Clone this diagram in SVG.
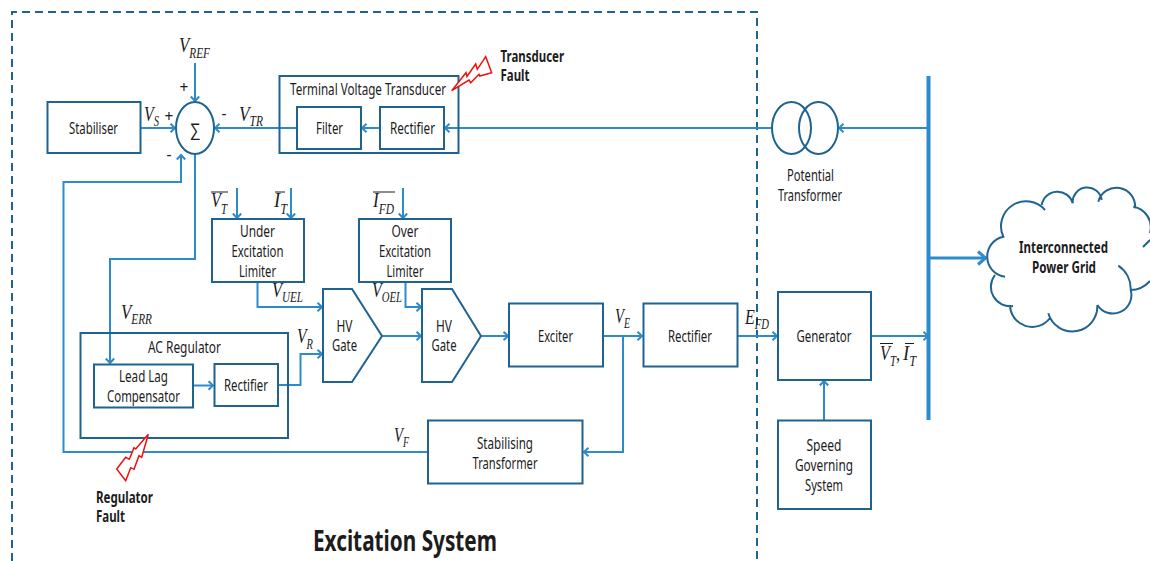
<svg xmlns="http://www.w3.org/2000/svg" width="1150" height="561" viewBox="0 0 1150 561">
<style>
.b{fill:#fff;stroke:#1f6391;stroke-width:2}
.o{fill:none;stroke:#1f6391;stroke-width:2}
.c{fill:none;stroke:#2e8bcb;stroke-width:2}
.a{marker-end:url(#ah)}
.bolt{fill:#fff;stroke:#f01010;stroke-width:1.5;stroke-linejoin:miter}
text{font-family:"Noto Sans","Liberation Sans",sans-serif;font-size:15.500px;fill:#1c1c1c;text-anchor:middle}
.l{text-anchor:start}
.f{font-weight:700}
.m{font-family:"Liberation Serif","DejaVu Serif",serif;font-style:italic;font-size:21px;text-anchor:start}
.m tspan{font-size:14px}
.m tspan.n{font-size:21px}
.bar{stroke:#1c1c1c;stroke-width:1}
</style>
<defs>
<marker id="ah" markerUnits="userSpaceOnUse" markerWidth="9" markerHeight="12" refX="7" refY="6" orient="auto"><path d="M2.500,1.800 L7,6 L2.500,10.200" fill="none" stroke="#2e8bcb" stroke-width="2"/></marker>
</defs>
<rect width="1150" height="561" fill="#fff"/>
<path id="boundary" d="M12,561 V12 H757 V561" fill="none" stroke="#1f6391" stroke-width="2" stroke-dasharray="8 5"/>

<g id="connectors">
<path class="c a" d="M195,63 V101"/>
<path class="c a" d="M140,128 H175"/>
<path class="c a" d="M297,128 H215"/>
<path class="c a" d="M380,128 H362"/>
<path class="c a" d="M772,128 H445"/>
<path class="c a" d="M928,128 H839"/>
<path class="c a" d="M428,452 H63.500 V182 H181 V155"/>
<path class="c a" d="M195,154 V259 H110 V363"/>
<path class="c a" d="M237,188 V218"/>
<path class="c a" d="M291,188 V218"/>
<path class="c a" d="M403,188 V218"/>
<path class="c a" d="M257.500,282 V307 H322"/>
<path class="c a" d="M405.500,282 V307 H421"/>
<path class="c a" d="M193,385.500 H213"/>
<path class="c a" d="M278,385 H300.500 V354 H322"/>
<path class="c a" d="M382,336 H421"/>
<path class="c a" d="M481,336 H508"/>
<path class="c a" d="M603,336 H642"/>
<path class="c a" d="M623,336 V452 H584"/>
<path class="c a" d="M737,336 H777"/>
<path class="c a" d="M871,336 H928"/>
<path class="c a" d="M824,420 V381"/>
<path d="M929,258 H985" fill="none" stroke="#2e8bcb" stroke-width="3"/>
<path d="M978,251.500 L985.500,258 L978,264.500" fill="none" stroke="#2e8bcb" stroke-width="3"/>
<path id="bus" d="M928.500,76 V420" fill="none" stroke="#2e8bcb" stroke-width="4"/>
</g>

<g id="stabiliser"><rect class="b" x="47.500" y="102" width="93" height="51"/><text x="93.500" y="134" textLength="49" lengthAdjust="spacingAndGlyphs">Stabiliser</text></g>
<g id="summer"><ellipse class="b" cx="195" cy="128" rx="19" ry="26"/><text x="195" y="136" style="font-size:18px" textLength="11" lengthAdjust="spacingAndGlyphs">∑</text></g>
<g id="signs"><text x="184" y="93">+</text><text x="169" y="122">+</text><text x="169" y="160">-</text><text x="224" y="119">-</text></g>

<g id="voltage-transducer"><rect class="o" x="279.500" y="76" width="179" height="77"/><text x="368" y="95" textLength="156" lengthAdjust="spacingAndGlyphs">Terminal Voltage Transducer</text></g>
<g id="filter"><rect class="b" x="297" y="107" width="64" height="42"/><text x="329.500" y="134" textLength="27" lengthAdjust="spacingAndGlyphs">Filter</text></g>
<g id="transducer-rectifier"><rect class="b" x="380" y="107" width="64" height="42"/><text x="412.500" y="134" textLength="45" lengthAdjust="spacingAndGlyphs">Rectifier</text></g>

<g id="under-excitation-limiter"><rect class="b" x="212" y="219" width="92" height="63"/><text x="257.500" y="237" textLength="35" lengthAdjust="spacingAndGlyphs">Under</text><text x="257.500" y="257" textLength="52" lengthAdjust="spacingAndGlyphs">Excitation</text><text x="257.500" y="277" textLength="37" lengthAdjust="spacingAndGlyphs">Limiter</text></g>
<g id="over-excitation-limiter"><rect class="b" x="359" y="219" width="92" height="63"/><text x="405" y="237" textLength="27" lengthAdjust="spacingAndGlyphs">Over</text><text x="405" y="257" textLength="52" lengthAdjust="spacingAndGlyphs">Excitation</text><text x="405" y="277" textLength="37" lengthAdjust="spacingAndGlyphs">Limiter</text></g>

<g id="hv-gate-1"><path class="b" d="M323,289 H352 L382,336 L352,382 H323 Z"/><text x="344.500" y="332" textLength="16" lengthAdjust="spacingAndGlyphs">HV</text><text x="344.500" y="351" textLength="25" lengthAdjust="spacingAndGlyphs">Gate</text></g>
<g id="hv-gate-2"><path class="b" d="M422,289 H452 L481,336 L452,382 H422 Z"/><text x="444" y="332" textLength="16" lengthAdjust="spacingAndGlyphs">HV</text><text x="444" y="351" textLength="25" lengthAdjust="spacingAndGlyphs">Gate</text></g>

<g id="ac-regulator"><rect class="o" x="80.500" y="333" width="207.500" height="105"/><text x="184.500" y="353" textLength="73" lengthAdjust="spacingAndGlyphs">AC Regulator</text></g>
<g id="lead-lag"><rect class="b" x="94" y="364.500" width="99" height="43"/><text x="143.500" y="382" textLength="49" lengthAdjust="spacingAndGlyphs">Lead Lag</text><text x="143.500" y="402" textLength="73" lengthAdjust="spacingAndGlyphs">Compensator</text></g>
<g id="regulator-rectifier"><rect class="b" x="214.500" y="364" width="63.500" height="42"/><text x="246" y="391" textLength="44" lengthAdjust="spacingAndGlyphs">Rectifier</text></g>

<g id="exciter"><rect class="b" x="509" y="303.500" width="94" height="63"/><text x="555.500" y="342" textLength="35" lengthAdjust="spacingAndGlyphs">Exciter</text></g>
<g id="main-rectifier"><rect class="b" x="643.500" y="303.500" width="94" height="63"/><text x="690" y="342" textLength="44" lengthAdjust="spacingAndGlyphs">Rectifier</text></g>
<g id="stabilising-transformer"><rect class="b" x="428" y="420.500" width="154.500" height="63"/><text x="505" y="449" textLength="56" lengthAdjust="spacingAndGlyphs">Stabilising</text><text x="505" y="469" textLength="65" lengthAdjust="spacingAndGlyphs">Transformer</text></g>
<g id="generator"><rect class="b" x="778" y="292" width="93" height="88"/><text x="824" y="342" textLength="55" lengthAdjust="spacingAndGlyphs">Generator</text></g>
<g id="speed-governing"><rect class="b" x="778" y="420.500" width="93" height="88.500"/><text x="824" y="451" textLength="35" lengthAdjust="spacingAndGlyphs">Speed</text><text x="824" y="471" textLength="58" lengthAdjust="spacingAndGlyphs">Governing</text><text x="824" y="491" textLength="38" lengthAdjust="spacingAndGlyphs">System</text></g>

<g id="potential-transformer"><ellipse class="o" cx="791.500" cy="128" rx="19.500" ry="26"/><ellipse class="o" cx="818.500" cy="128" rx="19.500" ry="26"/><text x="810.500" y="181" textLength="47" lengthAdjust="spacingAndGlyphs">Potential</text><text x="810" y="201" textLength="64" lengthAdjust="spacingAndGlyphs">Transformer</text></g>

<g id="power-grid">
<path class="o" d="M1005,276.700 A20.300,20.300 0 0 1 1003.300,236.700 A25,25 0 0 1 1045,210 M1041.700,205 A15.900,15.900 0 0 1 1072.700,203.300 A14.600,14.600 0 0 1 1101.700,200 M1098.300,201.700 A18.700,18.700 0 0 1 1135,208.300 M1133.300,206.700 A20.900,20.900 0 0 1 1150,233 M1150,240 L1143,247 M1118.300,265.700 A28,28 0 0 1 1130.700,290 A18.500,18.500 0 0 1 1097.300,305 M1130.700,290 Q1142,290 1150,281 M1097.300,305 A25,25 0 0 1 1048.300,313.300 M1050,318 A22.200,22.200 0 0 1 1010,305 M1013,306 A19.300,19.300 0 0 1 995,275"/>
<text class="f" x="1063.500" y="253" textLength="89" lengthAdjust="spacingAndGlyphs">Interconnected</text><text class="f" x="1064" y="273" textLength="64" lengthAdjust="spacingAndGlyphs">Power Grid</text>
</g>

<g id="transducer-fault"><path class="bolt" d="M451.700,90.700 L466,72.700 L467,76.500 L475.700,64 L477.300,69.300 L485.700,56.700 L491.700,72.700 L479.700,76 L479,74.300 L470.700,82.700 L469,80 Z"/><text class="f l" x="500.500" y="62" textLength="63.500" lengthAdjust="spacingAndGlyphs">Transducer</text><text class="f l" x="500.500" y="81" textLength="29" lengthAdjust="spacingAndGlyphs">Fault</text></g>
<g id="regulator-fault"><path class="bolt" d="M148.300,434.300 L135.700,449 L134,447.700 L129.300,459.300 L125.700,457.300 L116.700,469 L125.700,480.700 L130.700,467.700 L134,469.300 L139,455.700 L141.700,457.300 Z"/><text class="f l" x="96" y="503" textLength="57" lengthAdjust="spacingAndGlyphs">Regulator</text><text class="f l" x="96" y="522" textLength="29" lengthAdjust="spacingAndGlyphs">Fault</text></g>

<g id="math-labels">
<text class="m" x="179" y="52" textLength="31" lengthAdjust="spacingAndGlyphs">V<tspan dy="6">REF</tspan></text>
<text class="m" x="144" y="121" textLength="15" lengthAdjust="spacingAndGlyphs">V<tspan dy="5">S</tspan></text>
<text class="m" x="239" y="121" textLength="24" lengthAdjust="spacingAndGlyphs">V<tspan dy="5">TR</tspan></text>
<text class="m" x="211" y="207" textLength="16" lengthAdjust="spacingAndGlyphs">V<tspan dy="7">T</tspan></text><path class="bar" d="M211,192 H228"/>
<text class="m" x="274" y="207" textLength="13" lengthAdjust="spacingAndGlyphs">I<tspan dy="7">T</tspan></text><path class="bar" d="M275,192 H285"/>
<text class="m" x="373" y="207" textLength="21" lengthAdjust="spacingAndGlyphs">I<tspan dy="7">FD</tspan></text><path class="bar" d="M373,192 H395"/>
<text class="m" x="272" y="297" textLength="31" lengthAdjust="spacingAndGlyphs">V<tspan dy="5">UEL</tspan></text>
<text class="m" x="372" y="297" textLength="30" lengthAdjust="spacingAndGlyphs">V<tspan dy="5">OEL</tspan></text>
<text class="m" x="121" y="319" textLength="31" lengthAdjust="spacingAndGlyphs">V<tspan dy="5">ERR</tspan></text>
<text class="m" x="297" y="343" textLength="16" lengthAdjust="spacingAndGlyphs">V<tspan dy="6">R</tspan></text>
<text class="m" x="394" y="442" textLength="15" lengthAdjust="spacingAndGlyphs">V<tspan dy="5">F</tspan></text>
<text class="m" x="615" y="323" textLength="15" lengthAdjust="spacingAndGlyphs">V<tspan dy="5">E</tspan></text>
<text class="m" x="745" y="324" textLength="24" lengthAdjust="spacingAndGlyphs">E<tspan dy="5">FD</tspan></text>
<text class="m" x="880" y="360" textLength="20" lengthAdjust="spacingAndGlyphs">V<tspan dy="6">T</tspan><tspan class="n" dy="-6">,</tspan></text><path class="bar" d="M880,343.500 H893"/>
<text class="m" x="903" y="360" textLength="13" lengthAdjust="spacingAndGlyphs">I<tspan dy="6">T</tspan></text><path class="bar" d="M905,343.500 H914"/>
</g>

<text id="title" class="f" x="405" y="551" style="font-size:28px" textLength="184" lengthAdjust="spacingAndGlyphs">Excitation System</text>
</svg>
